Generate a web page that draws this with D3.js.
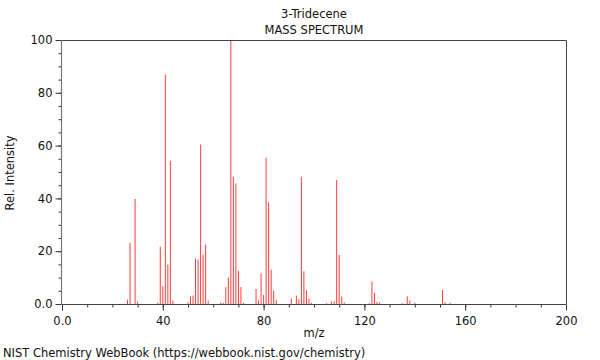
<!DOCTYPE html>
<html><head><meta charset="utf-8">
<script src="https://cdn.jsdelivr.net/npm/d3@7"></script>
<style>
body{margin:0;background:#fff;}
text{font-family:"DejaVu Sans",sans-serif;}
</style></head>
<body><svg id="c" width="600" height="360"></svg>
<script>
const mz = [26,27,29,30,38,39,40,41,42,43,44,50,51,52,53,54,55,56,57,58,63,64,65,66,67,68,69,70,71,72,77,78,79,80,81,82,83,84,85,91,93,94,95,96,97,98,99,105,107,108,109,110,111,112,122,123,124,125,126,135,137,138,140,151,152,154];
const intensity = [1.6,23.2,39.8,1.0,0.5,21.7,6.7,86.9,14.9,54.2,1.3,0.6,2.9,3.2,17.2,16.8,60.4,18.7,22.5,1.3,0.6,0.4,6.4,10.0,100,48.2,45.7,12.6,6.4,0.4,5.7,1.4,11.6,3.4,55.4,38.5,13.0,5.1,1.6,2.1,3.2,1.9,48.2,12.4,5.2,2.0,0.4,0.3,1.0,1.1,47.0,18.6,2.8,0.6,0.3,8.5,4.2,0.8,0.6,0.3,2.9,1.3,0.4,5.3,0.6,0.5];
const xMajor = [0,40,80,120,160,200];
const xMajorLabels = ["0.0","40","80","120","160","200"];
const yMajor = [0,20,40,60,80,100];
const yMajorLabels = ["0.0","20","40","60","80","100"];
const title1 = "3-Tridecene", title2 = "MASS SPECTRUM";

const FS = 11.5;
const svg = d3.select("#c");
const L=62,R=566,T=40,B=304;
const x = d3.scaleLinear().domain([0,200]).range([L,R]);
const y = d3.scaleLinear().domain([0,100]).range([B,T]);

// bars
svg.append("g").selectAll("line").data(mz).join("line")
  .attr("x1",(d)=>x(d)).attr("x2",(d)=>x(d))
  .attr("y1",y(0)).attr("y2",(d,i)=>y(intensity[i]))
  .attr("stroke","#ff3c3c").attr("stroke-width",1);

// frame top/right
svg.append("path").attr("d",`M${L},${T+0.5}H${R+0.5}V${B}`).attr("fill","none").attr("stroke","#444").attr("stroke-width",1);

// x axis
const xa = svg.append("g").attr("transform",`translate(0,${B+0.5})`);
xa.call(d3.axisBottom(x).tickValues(d3.range(0,201,10)).tickSize(3).tickFormat(""))
  .call(g=>g.select(".domain").remove());
xa.append("g").call(d3.axisBottom(x).tickValues(xMajor).tickSize(6).tickFormat((d,i)=>xMajorLabels[i]))
  .call(g=>g.select(".domain").remove())
  .call(g=>g.selectAll("text").attr("font-size",FS).attr("fill","#111").attr("font-family","DejaVu Sans").attr("dy","1.0em"));
xa.selectAll("line").attr("stroke","#333");
svg.append("line").attr("x1",L).attr("x2",R).attr("y1",B+0.5).attr("y2",B+0.5).attr("stroke","#444");

// y axis
const ya = svg.append("g").attr("transform",`translate(${L-0.5},0)`);
ya.call(d3.axisLeft(y).tickValues(d3.range(0,101,5)).tickSize(3).tickFormat(""))
  .call(g=>g.select(".domain").remove());
ya.append("g").call(d3.axisLeft(y).tickValues(yMajor).tickSize(6).tickFormat((d,i)=>yMajorLabels[i]))
  .call(g=>g.select(".domain").remove())
  .call(g=>g.selectAll("text").attr("font-size",FS).attr("fill","#111").attr("font-family","DejaVu Sans"));
ya.selectAll("line").attr("stroke","#333");
svg.append("line").attr("x1",L-0.5).attr("x2",L-0.5).attr("y1",T).attr("y2",B+1).attr("stroke","#777").attr("stroke-width",1.2);

// titles
svg.append("text").attr("x",314).attr("y",18).attr("text-anchor","middle").attr("font-size",FS).attr("fill","#111").text(title1);
svg.append("text").attr("x",314).attr("y",34).attr("text-anchor","middle").attr("font-size",FS).attr("fill","#111").text(title2);
svg.append("text").attr("x",314).attr("y",337).attr("text-anchor","middle").attr("font-size",FS).attr("fill","#111").text("m/z");
svg.append("text").attr("transform","translate(14,173) rotate(-90)").attr("text-anchor","middle").attr("font-size",FS).attr("fill","#111").text("Rel. Intensity");
svg.append("text").attr("x",3).attr("y",357).attr("font-size",FS).attr("fill","#111").text("NIST Chemistry WebBook (https://webbook.nist.gov/chemistry)");
</script></body></html>
